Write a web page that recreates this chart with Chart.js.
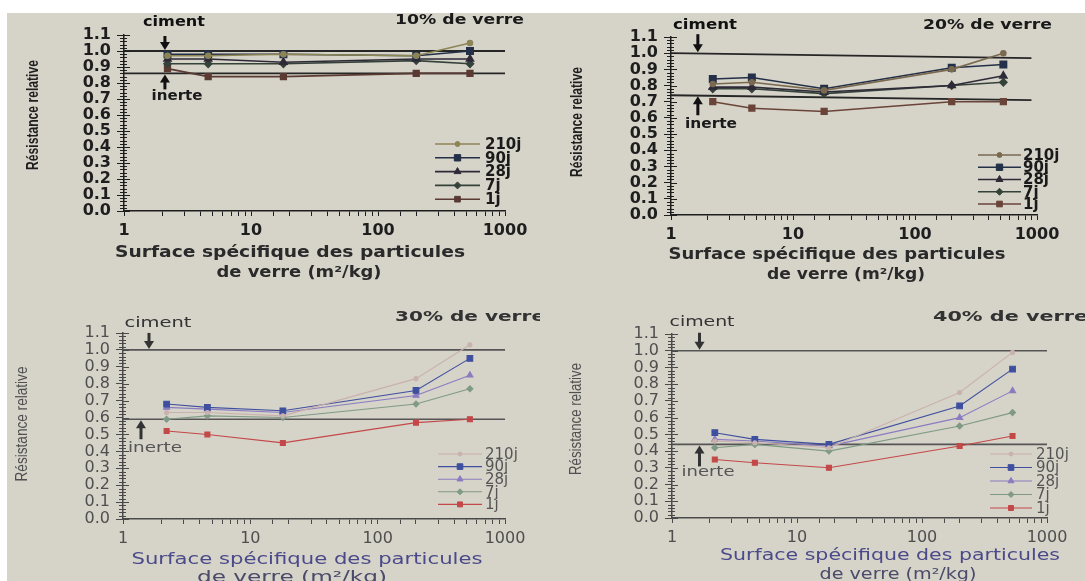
<!DOCTYPE html>
<html><head><meta charset="utf-8">
<script src="https://cdn.jsdelivr.net/npm/chart.js@4.4.1/dist/chart.umd.min.js"></script>
<style>
html,body{margin:0;padding:0;background:#fff;width:1085px;height:581px;overflow:hidden;}
#bg{position:absolute;left:7px;top:13px;width:1078px;height:568px;background:#d6d3c9;}
canvas{position:absolute;}
</style></head><body>
<div id="bg"></div>
<canvas id="c1" width="533" height="287" style="left:7px;top:13px"></canvas>
<canvas id="c2" width="545" height="287" style="left:540px;top:13px"></canvas>
<canvas id="c3" width="533" height="281" style="left:7px;top:300px"></canvas>
<canvas id="c4" width="545" height="281" style="left:540px;top:300px"></canvas>
<script>
// ---------- DATA ----------
const seriesNames = ['210j', '90j', '28j', '7j', '1j'];
const surfaces = [2.2, 4.6, 18, 200, 530];          // surface spécifique (m²/kg)
const panelTitles = ['10% de verre', '20% de verre', '30% de verre', '40% de verre'];
const xTickLabels = ['1', '10', '100', '1000'];
const yTickStep = 0.1;
const yMax = 1.1;

// 10 % de verre
const v10_210 = [0.97, 0.97, 0.98, 0.97, 1.05];
const v10_90  = [0.98, 0.98, 0.98, 0.97, 1.00];
const v10_28  = [0.95, 0.95, 0.93, 0.95, 0.95];
const v10_7   = [0.92, 0.92, 0.92, 0.94, 0.92];
const v10_1   = [0.89, 0.84, 0.84, 0.86, 0.86];
// 20 % de verre
const v20_210 = [0.81, 0.82, 0.77, 0.90, 1.00];
const v20_90  = [0.84, 0.85, 0.78, 0.91, 0.93];
const v20_28  = [0.79, 0.79, 0.76, 0.80, 0.86];
const v20_7   = [0.78, 0.78, 0.75, 0.80, 0.82];
const v20_1   = [0.70, 0.66, 0.64, 0.70, 0.70];
// 30 % de verre
const v30_210 = [0.63, 0.63, 0.61, 0.83, 1.03];
const v30_90  = [0.68, 0.66, 0.64, 0.76, 0.95];
const v30_28  = [0.66, 0.65, 0.63, 0.73, 0.85];
const v30_7   = [0.59, 0.61, 0.60, 0.68, 0.77];
const v30_1   = [0.52, 0.50, 0.45, 0.57, 0.59];
// 40 % de verre
const v40_210 = [0.46, 0.45, 0.42, 0.75, 0.99];
const v40_90  = [0.51, 0.47, 0.44, 0.67, 0.89];
const v40_28  = [0.47, 0.46, 0.43, 0.60, 0.76];
const v40_7   = [0.42, 0.44, 0.40, 0.55, 0.63];
const v40_1   = [0.35, 0.33, 0.30, 0.43, 0.49];

// reference lines : [value at left end, value at right end]
const cimentRef = [[1.0, 1.0], [1.0, 0.97], [1.0, 1.0], [1.0, 1.0]];
const inerteRef = [[0.86, 0.86], [0.74, 0.71], [0.59, 0.59], [0.44, 0.44]];
const refXRange = [[1, 1000], [1, 900], [1, 1000], [1, 1000]];
const arrowX = [2.1, 1.66, 1.6, 1.66];

const panelValues = [
  [v10_210, v10_90, v10_28, v10_7, v10_1],
  [v20_210, v20_90, v20_28, v20_7, v20_1],
  [v30_210, v30_90, v30_28, v30_7, v30_1],
  [v40_210, v40_90, v40_28, v40_7, v40_1]
];

// ---------- STYLE / LAYOUT ----------
const darkColors = [
  ['#8c8555', '#243048', '#2e2a38', '#34423a', '#5a3a32'],
  ['#7a6a50', '#243048', '#2e2a38', '#34423a', '#6a4438']
];
const lightColors = ['#c9b2ae', '#3f4fa0', '#8a7cc0', '#7f9a86', '#c44848'];
const pointStyles = ['circle', 'rect', 'triangle', 'rectRot', 'rect'];
const pointRadiiDark = [2.5, 4.5, 4, 3.5, 4];
const pointRadiiLight = [2, 4, 3.5, 3, 3.5];

const layouts = [
  { id:'c1', left:7, top:13, w:533, h:287, area:{l:124,t:35,r:505,b:211}, dark:true,
    title:{x:395,y:20,w:129}, yTitle:{x:33,y:115,w:110},
    xTitle:[{x:290,y:253,w:350},{x:299,y:273,w:165}],
    cim:{len:15, tx:174, ty:22, tw:62}, ine:{len:16, tx:177, ty:96, tw:51},
    leg:{x0:435, x1:480, tx:485, y0:144, dy:13.8} },
  { id:'c2', left:540, top:13, w:545, h:287, area:{l:671,t:37,r:1037,b:215}, dark:true,
    title:{x:923,y:25,w:129}, yTitle:{x:577,y:122,w:110},
    xTitle:[{x:837,y:255,w:337},{x:846,y:275,w:158}],
    cim:{len:19, tx:705, ty:25, tw:64}, ine:{len:20, tx:711, ty:124, tw:52},
    leg:{x0:978, x1:1021, tx:1023, y0:155, dy:12.25} },
  { id:'c3', left:7, top:300, w:533, h:281, area:{l:123,t:333,r:505,b:519}, dark:false,
    title:{x:395,y:317,w:150}, yTitle:{x:23,y:424,w:115},
    xTitle:[{x:307,y:560,w:351},{x:292,y:578,w:190}],
    cim:{len:17, tx:158, ty:323, tw:67}, ine:{len:20, tx:155, ty:448, tw:54},
    leg:{x0:438, x1:482, tx:485, y0:454, dy:12.6} },
  { id:'c4', left:540, top:300, w:545, h:281, area:{l:672,t:334,r:1047,b:518}, dark:false,
    title:{x:933,y:317,w:155}, yTitle:{x:577,y:419,w:112},
    xTitle:[{x:890,y:556,w:340},{x:898,y:575,w:157}],
    cim:{len:18, tx:702, ty:322, tw:65}, ine:{len:22, tx:708, ty:472, tw:53},
    leg:{x0:990, x1:1032, tx:1036, y0:454, dy:13.5} }
];

function fitText(ctx, text, x, y, font, color, targetW, align, rot) {
  ctx.save();
  ctx.font = font; ctx.fillStyle = color; ctx.textBaseline = 'middle';
  ctx.textAlign = align || 'center';
  const w = ctx.measureText(text).width;
  const sx = targetW ? targetW / w : 1;
  ctx.translate(x, y);
  if (rot) ctx.rotate(rot);
  ctx.scale(sx, 1);
  ctx.fillText(text, 0, 0);
  ctx.restore();
}

function arrow(ctx, x, yFrom, yTo, color) {
  const dir = yTo > yFrom ? 1 : -1;
  ctx.save();
  ctx.strokeStyle = color; ctx.fillStyle = color; ctx.lineWidth = 3;
  ctx.beginPath(); ctx.moveTo(x, yFrom); ctx.lineTo(x, yTo - dir * 6); ctx.stroke();
  ctx.beginPath();
  ctx.moveTo(x - 5, yTo - dir * 8); ctx.lineTo(x + 5, yTo - dir * 8); ctx.lineTo(x, yTo);
  ctx.closePath(); ctx.fill();
  ctx.restore();
}

function makePanel(i) {
  const L = layouts[i];
  const ox = L.left, oy = L.top;
  const dark = L.dark;
  const colors = dark ? darkColors[i] : lightColors;
  const radii = dark ? pointRadiiDark : pointRadiiLight;
  const axisColor = dark ? '#1e1e1e' : '#4a4a4a';
  const textColor = dark ? '#1e1e1e' : '#4f4f4f';
  const fam = "'DejaVu Sans', 'Liberation Sans', sans-serif";
  const weight = dark ? 'bold' : 'normal';

  const datasets = seriesNames.map((name, k) => ({
    label: name,
    data: surfaces.map((s, j) => ({ x: s, y: panelValues[i][k][j] })),
    borderColor: colors[k], backgroundColor: colors[k],
    borderWidth: dark ? 1.6 : 1.1,
    pointStyle: pointStyles[k], pointRadius: radii[k],
    showLine: true, tension: 0
  }));
  const refColor = dark ? '#262626' : '#555555';
  datasets.push({ label: 'ciment',
    data: [{ x: refXRange[i][0], y: cimentRef[i][0] }, { x: refXRange[i][1], y: cimentRef[i][1] }],
    borderColor: refColor, borderWidth: dark ? 1.8 : 1.6, pointRadius: 0, showLine: true });
  datasets.push({ label: 'inerte',
    data: [{ x: refXRange[i][0], y: inerteRef[i][0] }, { x: refXRange[i][1], y: inerteRef[i][1] }],
    borderColor: refColor, borderWidth: dark ? 1.8 : 1.6, pointRadius: 0, showLine: true });

  const deco = {
    id: 'deco' + i,
    afterDraw(chart) {
      const ctx = chart.ctx;
      const xs = chart.scales.x, ys = chart.scales.y;
      // minor ticks on y axis
      ctx.save();
      ctx.strokeStyle = axisColor; ctx.lineWidth = 1;
      const ax = xs.left;
      for (let v = 0; v <= yMax + 1e-9; v += 0.02) {
        const y = Math.round(ys.getPixelForValue(v)) + 0.5;
        const major = Math.abs(v / yTickStep - Math.round(v / yTickStep)) < 1e-6;
        ctx.beginPath();
        ctx.moveTo(ax - (major ? 0 : 4), y); ctx.lineTo(ax + (major ? 6 : 3), y);
        ctx.stroke();
      }
      ctx.restore();
      // arrows + labels
      const axp = xs.getPixelForValue(arrowX[i]);
      const yc = ys.getPixelForValue(cimentRef[i][0]);
      const yi = ys.getPixelForValue(inerteRef[i][0]);
      arrow(ctx, axp, yc - L.cim.len, yc - 1, dark ? '#111' : '#333');
      arrow(ctx, i === 2 ? axp - 8 : axp, yi + L.ine.len, yi + 1, dark ? '#111' : '#333');
      fitText(ctx, 'ciment', L.cim.tx - ox, L.cim.ty - oy, weight + ' 14px ' + fam, dark ? '#111' : '#333', L.cim.tw);
      fitText(ctx, 'inerte', L.ine.tx - ox, L.ine.ty - oy, weight + ' 14px ' + fam, dark ? '#1a1a1a' : '#555', L.ine.tw);
      // panel title
      fitText(ctx, panelTitles[i], L.title.x - ox, L.title.y - oy, 'bold 14px ' + fam, dark ? '#1a1a1a' : '#333', L.title.w, 'left');
      // axis titles
      fitText(ctx, 'Résistance relative', L.yTitle.x - ox, L.yTitle.y - oy,
        (dark ? 'bold 17px ' : '16px ') + "'Liberation Sans Narrow','Liberation Sans',sans-serif", textColor, L.yTitle.w, 'center', -Math.PI / 2);
      fitText(ctx, 'Surface spécifique des particules', L.xTitle[0].x - ox, L.xTitle[0].y - oy, weight + ' 15px ' + fam, dark ? '#2a2a2a' : '#4a4a8a', L.xTitle[0].w);
      fitText(ctx, 'de verre (m²/kg)', L.xTitle[1].x - ox, L.xTitle[1].y - oy, weight + ' 15px ' + fam, dark ? '#2a2a2a' : '#4a4a6a', L.xTitle[1].w);
      // legend
      ctx.save();
      seriesNames.forEach((name, k) => {
        const ds = chart.data.datasets[k];
        const y = L.leg.y0 + k * L.leg.dy - oy;
        ctx.strokeStyle = ds.borderColor; ctx.lineWidth = ds.borderWidth;
        ctx.beginPath(); ctx.moveTo(L.leg.x0 - ox, y); ctx.lineTo(L.leg.x1 - ox, y); ctx.stroke();
        ctx.fillStyle = ds.backgroundColor;
        ctx.strokeStyle = ds.borderColor; ctx.lineWidth = 1;
        Chart.helpers.drawPoint(ctx, { pointStyle: ds.pointStyle, radius: ds.pointRadius, borderWidth: 1 },
          (L.leg.x0 + L.leg.x1) / 2 - ox, y);
        ctx.fillStyle = dark ? '#1a1a1a' : '#555';
        ctx.font = weight + ' 15px ' + fam; ctx.textBaseline = 'middle'; ctx.textAlign = 'left';
        ctx.fillText(name, L.leg.tx - ox, y + 1);
      });
      ctx.restore();
    }
  };

  return new Chart(document.getElementById(L.id), {
    type: 'scatter',
    data: { datasets },
    options: {
      responsive: false, animation: false,
      layout: { padding: { left: 0, bottom: 0, top: L.area.t - oy, right: ox + L.w - L.area.r } },
      plugins: { legend: { display: false }, tooltip: { enabled: false }, title: { display: false } },
      elements: { point: { borderWidth: 1 } },
      scales: {
        x: {
          type: 'logarithmic', min: 1, max: 1000, position: 'bottom',
          afterFit: s => { s.height = oy + L.h - L.area.b; },
          border: { display: true, color: axisColor, width: 1.5 },
          grid: { display: true, drawOnChartArea: false, drawTicks: true, tickLength: 5, color: axisColor, lineWidth: 1 },
          ticks: {
            autoSkip: false, maxRotation: 0, minRotation: 0, padding: 5,
            color: textColor, font: { family: fam, size: 16, weight: weight },
            callback: v => { const lab = xTickLabels.find(t => Math.abs(Number(t) - v) < 1e-6); return lab === undefined ? '' : lab; }
          },
          title: { display: false }
        },
        y: {
          min: 0, max: yMax, position: 'left',
          afterFit: s => { s.width = L.area.l - ox; },
          border: { display: true, color: axisColor, width: 1.5 },
          grid: { display: true, drawOnChartArea: false, drawTicks: true, tickLength: 7, color: axisColor, lineWidth: 1 },
          ticks: {
            stepSize: yTickStep, autoSkip: false, padding: 6,
            color: textColor, font: { family: fam, size: 16, weight: weight },
            callback: v => v.toFixed(1)
          },
          title: { display: false }
        }
      }
    },
    plugins: [deco]
  });
}
for (let i = 0; i < 4; i++) makePanel(i);
</script>
</body></html>
